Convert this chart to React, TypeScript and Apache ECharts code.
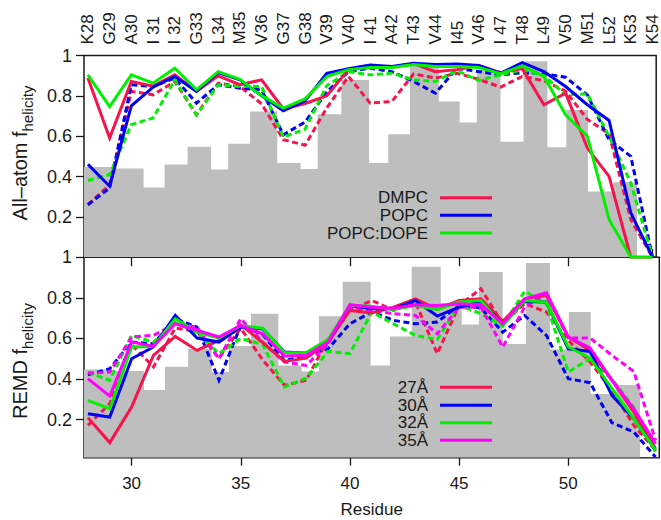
import React, { useEffect, useRef } from 'react';
import * as echarts from 'echarts';

// ---------------- data ----------------
const residues = [28, 29, 30, 31, 32, 33, 34, 35, 36, 37, 38, 39, 40, 41, 42, 43, 44, 45, 46, 47, 48, 49, 50, 51, 52, 53, 54];
const residueLabels = ['K28', 'G29', 'A30', 'I 31', 'I 32', 'G33', 'L34', 'M35', 'V36', 'G37', 'G38', 'V39', 'V40', 'I 41', 'A42', 'T43', 'V44', 'I45', 'V46', 'I 47', 'T48', 'L49', 'V50', 'M51', 'L52', 'K53', 'K54'];
const bottomTicks = [30, 35, 40, 45, 50];
const yTicks = [0.2, 0.4, 0.6, 0.8, 1];

// gray histogram (same in both panels): bin edges and heights
const binEdges = [27.82, 29.1, 30.565, 31.53, 32.59, 33.67, 34.46, 35.47, 36.72, 37.79, 38.58, 39.67, 40.95, 41.83, 42.83, 44.16, 45.12, 45.91, 47.0, 48.06, 49.16, 50.03, 51.03, 52.19, 53.29, 54.17];
const binHeights = [0.447, 0.44, 0.346, 0.46, 0.548, 0.435, 0.563, 0.722, 0.467, 0.437, 0.709, 0.879, 0.467, 0.61, 0.953, 0.772, 0.668, 0.927, 0.572, 0.971, 0.545, 0.73, 0.326, 0.371, 0];

// All-atom panel
const dmpcSolid = [0.888, 0.591, 0.871, 0.848, 0.904, 0.822, 0.899, 0.855, 0.879, 0.735, 0.762, 0.80, 0.93, 0.95, 0.942, 0.96, 0.92, 0.93, 0.95, 0.915, 0.935, 0.756, 0.813, 0.541, 0.401, 0.0, 0.0];
const popcSolid = [0.46, 0.352, 0.75, 0.843, 0.896, 0.822, 0.915, 0.879, 0.80, 0.726, 0.775, 0.912, 0.934, 0.953, 0.945, 0.962, 0.956, 0.958, 0.95, 0.912, 0.965, 0.92, 0.846, 0.756, 0.678, 0.22, 0.0];
const dopeSolid = [0.904, 0.747, 0.904, 0.863, 0.937, 0.83, 0.92, 0.882, 0.80, 0.739, 0.785, 0.896, 0.93, 0.94, 0.94, 0.955, 0.945, 0.945, 0.94, 0.91, 0.948, 0.896, 0.706, 0.599, 0.187, 0.0, 0.0];
const dmpcDash = [0.26, 0.36, 0.822, 0.805, 0.871, 0.706, 0.863, 0.846, 0.76, 0.583, 0.555, 0.74, 0.896, 0.764, 0.772, 0.909, 0.888, 0.912, 0.882, 0.843, 0.896, 0.875, 0.823, 0.683, 0.612, 0.187, 0.0];
const popcDash = [0.26, 0.343, 0.855, 0.846, 0.888, 0.764, 0.855, 0.838, 0.83, 0.607, 0.67, 0.82, 0.92, 0.937, 0.92, 0.871, 0.813, 0.937, 0.92, 0.904, 0.915, 0.91, 0.892, 0.805, 0.582, 0.50, 0.0];
const dopeDash = [0.38, 0.41, 0.657, 0.69, 0.879, 0.706, 0.855, 0.846, 0.846, 0.595, 0.635, 0.85, 0.92, 0.904, 0.912, 0.879, 0.871, 0.925, 0.876, 0.904, 0.929, 0.90, 0.805, 0.81, 0.60, 0.368, 0.0];

// REMD panel
const a27Solid = [0.21, 0.087, 0.262, 0.517, 0.61, 0.541, 0.59, 0.667, 0.58, 0.487, 0.503, 0.582, 0.738, 0.725, 0.754, 0.795, 0.743, 0.787, 0.795, 0.684, 0.795, 0.812, 0.607, 0.541, 0.394, 0.238, 0.057];
const a30Solid = [0.229, 0.213, 0.50, 0.558, 0.714, 0.602, 0.582, 0.656, 0.648, 0.533, 0.528, 0.582, 0.762, 0.746, 0.746, 0.787, 0.71, 0.754, 0.782, 0.672, 0.782, 0.779, 0.549, 0.536, 0.32, 0.205, 0.049];
const a32Solid = [0.295, 0.254, 0.558, 0.561, 0.697, 0.631, 0.602, 0.664, 0.65, 0.53, 0.53, 0.595, 0.762, 0.759, 0.743, 0.762, 0.743, 0.779, 0.787, 0.661, 0.787, 0.779, 0.558, 0.503, 0.353, 0.205, 0.049];
const a35Solid = [0.402, 0.316, 0.582, 0.562, 0.672, 0.64, 0.607, 0.664, 0.623, 0.513, 0.517, 0.582, 0.766, 0.754, 0.749, 0.766, 0.762, 0.771, 0.766, 0.672, 0.795, 0.825, 0.607, 0.553, 0.394, 0.254, 0.082];
const a27Dash = [0.172, 0.279, 0.57, 0.46, 0.651, 0.635, 0.503, 0.65, 0.495, 0.369, 0.394, 0.598, 0.738, 0.787, 0.738, 0.779, 0.525, 0.762, 0.845, 0.672, 0.771, 0.73, 0.59, 0.484, 0.344, 0.172, 0.049];
const a30Dash = [0.421, 0.451, 0.582, 0.574, 0.697, 0.656, 0.394, 0.664, 0.62, 0.49, 0.517, 0.549, 0.672, 0.73, 0.689, 0.672, 0.681, 0.762, 0.749, 0.631, 0.713, 0.615, 0.402, 0.382, 0.185, 0.139, 0.016];
const a32Dash = [0.434, 0.394, 0.615, 0.582, 0.677, 0.63, 0.525, 0.60, 0.57, 0.361, 0.405, 0.536, 0.525, 0.73, 0.672, 0.615, 0.595, 0.762, 0.722, 0.661, 0.832, 0.771, 0.435, 0.50, 0.40, 0.26, 0.041];
const a35Dash = [0.43, 0.434, 0.607, 0.615, 0.672, 0.656, 0.50, 0.697, 0.582, 0.484, 0.467, 0.574, 0.754, 0.738, 0.722, 0.713, 0.623, 0.754, 0.754, 0.558, 0.754, 0.82, 0.602, 0.602, 0.517, 0.438, 0.098];

const topNames = ['DMPC', 'POPC', 'POPC:DOPE'];
const bottomNames = ['27Å', '30Å', '32Å', '35Å'];

// ---------------- styles ----------------
const RED = '#f7134b';
const BLUE = '#0000f5';
const GREEN = '#00f000';
const MAGENTA = '#ff00ff';
const GRAY = '#bebebe';
const INK = '#1a1a1a';
const FONT = '"Liberation Sans", Arial, Helvetica, sans-serif';
const X_MIN = 27.82;
const X_MAX = 54.17;
const DASH = [6, 3.5];

function pairs(arr: number[]) {
  return residues.map((r, i) => [r, arr[i]]);
}

function histData() {
  const d: number[][] = [];
  for (let i = 0; i < binHeights.length; i++) d.push([binEdges[i], binHeights[i]]);
  d.push([binEdges[binEdges.length - 1], binHeights[binHeights.length - 1]]);
  return d;
}

function lineSeries(name: string, arr: number[], color: string, dashed: boolean, grid: number) {
  return {
    type: 'line',
    name,
    xAxisIndex: grid === 0 ? 0 : 1,
    yAxisIndex: grid,
    data: pairs(arr),
    symbol: 'none',
    silent: true,
    z: dashed ? 3 : 4,
    lineStyle: { color, width: 3, type: dashed ? DASH : 'solid', cap: 'butt', join: 'miter' },
  };
}

function histSeries(grid: number) {
  return {
    type: 'line',
    name: 'hist' + grid,
    xAxisIndex: grid === 0 ? 0 : 1,
    yAxisIndex: grid,
    data: histData(),
    step: 'end',
    symbol: 'none',
    silent: true,
    z: 1,
    lineStyle: { width: 0, color: GRAY },
    areaStyle: { color: GRAY, opacity: 1 },
  };
}

function yAxisCfg(grid: number, min: number) {
  return {
    gridIndex: grid,
    type: 'value',
    min,
    max: 1,
    axisLine: { show: false },
    splitLine: { show: false },
    axisTick: { show: true, inside: false, length: 8, customValues: yTicks, lineStyle: { color: INK, width: 1.3 } },
    axisLabel: {
      customValues: yTicks,
      margin: 12,
      color: INK,
      fontSize: 18,
      fontFamily: FONT,
      formatter: (v: number) => (Math.abs(v - 1) < 1e-9 ? '1' : v.toFixed(1)),
    },
  };
}

function legendGraphics(names: string[], colors: string[], ys: number[]) {
  const out: any[] = [];
  names.forEach((n, i) => {
    out.push({
      type: 'text',
      x: 428,
      y: ys[i],
      z: 100,
      silent: true,
      style: { text: n, fill: INK, font: `17px ${FONT}`, align: 'right', verticalAlign: 'middle', textAlign: 'right', textVerticalAlign: 'middle' },
    });
    out.push({
      type: 'line',
      z: 100,
      silent: true,
      shape: { x1: 440, y1: ys[i], x2: 492, y2: ys[i] },
      style: { stroke: colors[i], lineWidth: 3 },
    });
  });
  return out;
}

function yName(main: string, x: number, y: number) {
  return {
    type: 'text',
    x,
    y,
    z: 100,
    rotation: Math.PI / 2,
    silent: true,
    style: {
      text: `{a|${main}}{b|helicity}`,
      align: 'center',
      verticalAlign: 'middle',
      textAlign: 'center',
      textVerticalAlign: 'middle',
      rich: {
        a: { fontSize: 20, fontFamily: FONT, fill: INK, lineHeight: 23, verticalAlign: 'top' },
        b: { fontSize: 15, fontFamily: FONT, fill: INK, lineHeight: 17, verticalAlign: 'top', padding: [10, 0, 0, 0] },
      },
    },
  };
}

export default function App() {
  const ref = useRef<HTMLDivElement>(null);
  useEffect(() => {
    if (!ref.current) return;
    const chart = echarts.init(ref.current, null, { renderer: 'svg' });
    const option: any = {
      animation: false,
      backgroundColor: '#ffffff',
      grid: [
        { left: 84, top: 55.5, width: 575.3, height: 201.7, show: true, borderColor: INK, borderWidth: 1.5, backgroundColor: 'transparent' },
        { left: 84, top: 257.2, width: 575.3, height: 200.5, show: true, borderColor: INK, borderWidth: 1.5, backgroundColor: 'transparent' },
      ],
      xAxis: [
        {
          gridIndex: 0,
          type: 'value',
          position: 'top',
          min: X_MIN,
          max: X_MAX,
          axisLine: { show: false },
          splitLine: { show: false },
          axisTick: { show: true, inside: false, length: 8, customValues: residues, lineStyle: { color: INK, width: 1.3 } },
          axisLabel: {
            customValues: residues,
            rotate: 90,
            margin: 11,
            color: INK,
            fontSize: 17,
            fontFamily: FONT,
            formatter: (v: number) => residueLabels[Math.round(v) - residues[0]] || '',
          },
        },
        {
          gridIndex: 1,
          type: 'value',
          position: 'bottom',
          min: X_MIN,
          max: X_MAX,
          name: 'Residue',
          nameLocation: 'middle',
          nameGap: 43,
          nameTextStyle: { color: INK, fontSize: 17, fontFamily: FONT },
          axisLine: { show: false },
          splitLine: { show: false },
          axisTick: { show: true, inside: false, length: 8, customValues: bottomTicks, lineStyle: { color: INK, width: 1.3 } },
          axisLabel: { customValues: bottomTicks, margin: 17, color: INK, fontSize: 17, fontFamily: FONT },
        },
        {
          gridIndex: 1,
          type: 'value',
          position: 'top',
          min: X_MIN,
          max: X_MAX,
          axisLine: { show: false },
          splitLine: { show: false },
          axisTick: { show: true, inside: true, length: 9, customValues: bottomTicks, lineStyle: { color: INK, width: 1.3 } },
          axisLabel: { show: false },
        },
      ],
      yAxis: [yAxisCfg(0, 0), yAxisCfg(1, 0.0127)],
      series: [
        histSeries(0),
        histSeries(1),
        lineSeries('DMPC dashed', dmpcDash, RED, true, 0),
        lineSeries('POPC dashed', popcDash, BLUE, true, 0),
        lineSeries('POPC:DOPE dashed', dopeDash, GREEN, true, 0),
        lineSeries(topNames[0], dmpcSolid, RED, false, 0),
        lineSeries(topNames[1], popcSolid, BLUE, false, 0),
        lineSeries(topNames[2], dopeSolid, GREEN, false, 0),
        lineSeries('27Å dashed', a27Dash, RED, true, 1),
        lineSeries('30Å dashed', a30Dash, BLUE, true, 1),
        lineSeries('32Å dashed', a32Dash, GREEN, true, 1),
        lineSeries('35Å dashed', a35Dash, MAGENTA, true, 1),
        lineSeries(bottomNames[0], a27Solid, RED, false, 1),
        lineSeries(bottomNames[1], a30Solid, BLUE, false, 1),
        lineSeries(bottomNames[2], a32Solid, GREEN, false, 1),
        lineSeries(bottomNames[3], a35Solid, MAGENTA, false, 1),
      ],
      graphic: [
        yName('All–atom f', 21, 153),
        yName('REMD f', 21, 361),
        ...legendGraphics(topNames, [RED, BLUE, GREEN], [197.7, 215.3, 233]),
        ...legendGraphics(bottomNames, [RED, BLUE, GREEN, MAGENTA], [387.3, 405.3, 422.7, 440.3]),
      ],
    };
    chart.setOption(option);
    return () => chart.dispose();
  }, []);
  return <div ref={ref} style={{ position: 'fixed', left: 0, top: 0, width: 661, height: 520, background: '#fff' }} />;
}
